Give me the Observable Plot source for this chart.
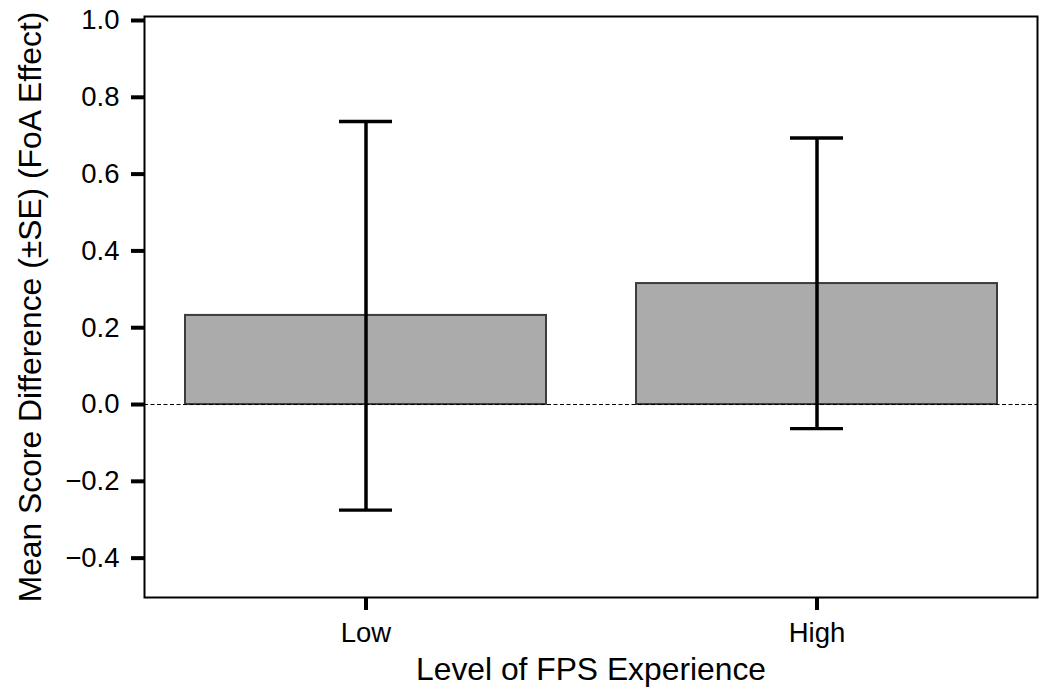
<!DOCTYPE html>
<html>
<head>
<meta charset="utf-8">
<script src="https://cdn.jsdelivr.net/npm/d3@7"></script>
<script src="https://cdn.jsdelivr.net/npm/@observablehq/plot@0.6"></script>
<style>
  html, body { margin: 0; padding: 0; background: #fff; }
</style>
</head>
<body>
<div id="chart"></div>
<script>
const categories = ["Low", "High"];
const means = [0.232, 0.315];
const upper = [0.737, 0.694];
const lower = [-0.275, -0.063];
const yTicks = [-0.4, -0.2, 0.0, 0.2, 0.4, 0.6, 0.8, 1.0];
const xTitle = "Level of FPS Experience";
const yTitle = "Mean Score Difference (\u00B1SE) (FoA Effect)";

const data = categories.map((c, i) => ({cat: c, mean: means[i], hi: upper[i], lo: lower[i]}));

const chart = Plot.plot({
  width: 1040,
  height: 687,
  marginLeft: 144,
  marginRight: 3,
  marginTop: 16,
  marginBottom: 90,
  style: {fontFamily: "'Liberation Sans', Arial, sans-serif", fontSize: "27.5px", background: "white", color: "black"},
  x: {domain: categories, paddingInner: 0.2, paddingOuter: 0.089},
  y: {domain: [-0.5025, 1.0104]},
  marks: [
    Plot.barY(data, {x: "cat", y: "mean", fill: "#ababab", stroke: "#3c3c3c", strokeWidth: 2, inset: 0}),
    Plot.ruleY([0], {stroke: "black", strokeWidth: 1, strokeDasharray: "4,2.5"}),
    Plot.ruleX(data, {x: "cat", y1: "lo", y2: "hi", stroke: "black", strokeWidth: 3.5}),
    Plot.tickY(data, {x: "cat", y: "hi", stroke: "black", strokeWidth: 3.3, insetLeft: 154, insetRight: 154}),
    Plot.tickY(data, {x: "cat", y: "lo", stroke: "black", strokeWidth: 3.3, insetLeft: 154, insetRight: 154}),
    Plot.frame({stroke: "black", strokeWidth: 2}),
    Plot.axisY({ticks: yTicks, tickSize: 13, tickPadding: 12, strokeWidth: 4, tickFormat: d3.format(".1f"), fontSize: 27.5, label: null}),
    Plot.axisX({tickSize: 13, tickPadding: 12, strokeWidth: 4, fontSize: 27.5, label: null}),
    Plot.text([yTitle], {text: d => d, frameAnchor: "left", rotate: -90, dx: -114, fontSize: 31.8, textAnchor: "middle", lineAnchor: "middle", fill: "black"}),
    Plot.text([xTitle], {text: d => d, frameAnchor: "bottom", dy: 72, fontSize: 31.8, textAnchor: "middle", lineAnchor: "middle", fill: "black"})
  ]
});
document.getElementById("chart").appendChild(chart);
</script>
</body>
</html>
